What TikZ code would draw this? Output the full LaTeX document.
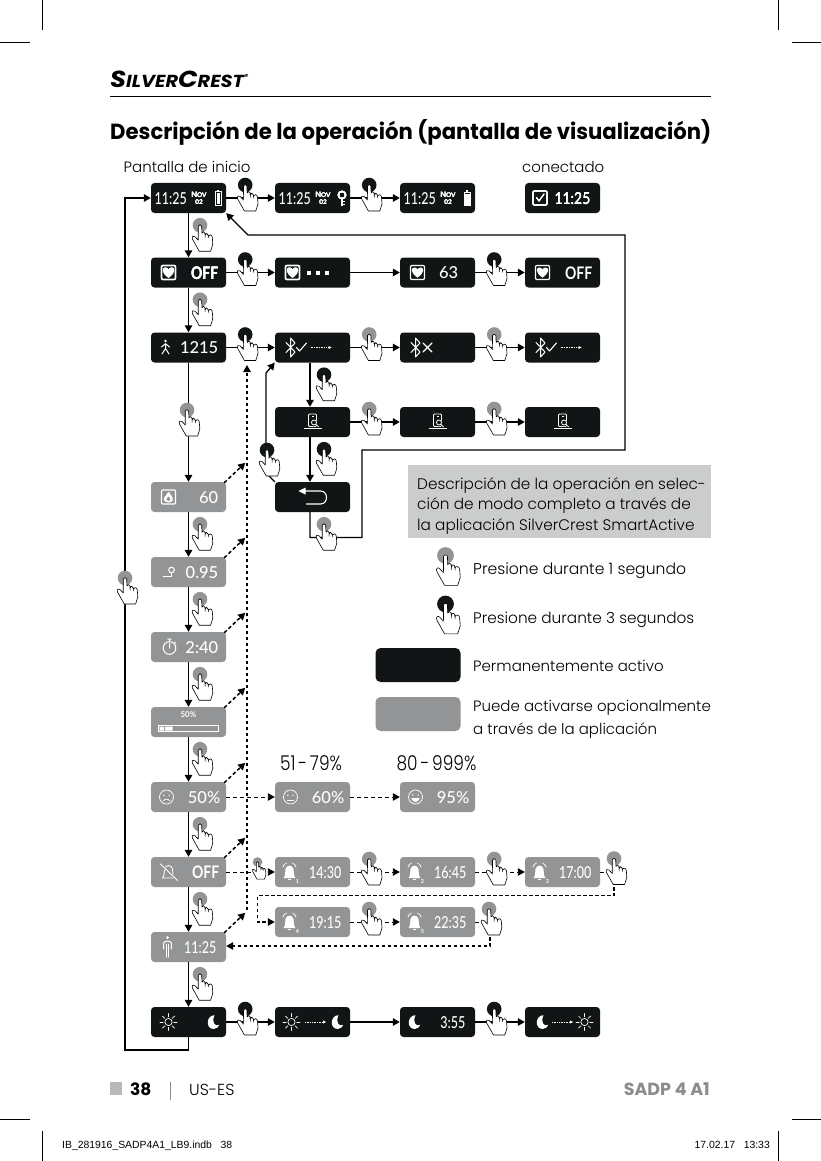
\documentclass[tikz,border=0pt]{standalone}
\usepackage{fontspec}
\setmainfont{Poppins Light}[BoldFont=Poppins SemiBold]
\newfontfamily\headfont{Poppins Bold}
\newfontfamily\dispfont{Lato Medium}[BoldFont=Lato Bold]
\newfontfamily\slugfont{Liberation Sans}
\usetikzlibrary{calc}
\usetikzlibrary{arrows.meta}
\definecolor{dispk}{HTML}{111515}
\definecolor{dispg}{HTML}{929495}
\definecolor{capg}{HTML}{CBCDCC}
\tikzset{
 >={Stealth[inset=0pt,length=7pt,width=7.5pt]},
 disp/.style={rectangle,rounded corners=3.5pt,minimum width=75pt,minimum height=30pt,fill=dispk,inner sep=0pt},
 dispgr/.style={disp,fill=dispg},
 val/.style={anchor=east,text=white,inner sep=0pt,font=\dispfont\fontsize{16.5}{18}\selectfont},
 body/.style={anchor=base west,inner sep=0pt,font=\fontsize{15}{20.5}\selectfont},
 conn/.style={line width=1.3pt},
 dashfine/.style={line width=.9pt,dash pattern=on 4pt off 3pt},
 dashbold/.style={line width=1.5pt,dash pattern=on 3.5pt off 2.5pt},
 crop/.style={line width=.7pt},
 ic/.style={draw=white,line width=1.1pt,line cap=round,line join=round},
 pics/hand/.style={code={
  \fill[#1] (0,0) circle[radius=7.3];
  \draw[fill=white,line width=.6pt,line join=round] (-1.7,1) .. controls (-1.7,-1) and (1.7,-1) .. (1.7,1)
   -- (1.9,8) .. controls (2.1,6) and (4.8,6) .. (5,8) -- (5.1,10)
   .. controls (5.3,7.5) and (8,7.5) .. (8.2,10) -- (8.3,11)
   .. controls (8.5,9) and (12,9) .. (12.3,12) -- (12.8,19) -- (10.6,26) -- (-.8,26)
   -- (-7.5,14) .. controls (-8.8,11.5) and (-6.4,9.5) .. (-5,11.5) -- (-1.8,15) -- cycle;
  \draw[line width=.5pt] (5,8) -- (5.2,12.5) (8.2,10) -- (8.4,13);
 }},
 pics/icoheart/.style={code={
  \draw[ic,rounded corners=1pt] (-7,-7) rectangle (7,7);
  \fill[white] (0,5.2) .. controls (-7.5,0) and (-6.5,-5) .. (-3.2,-5) .. controls (-1.5,-5) and (-.5,-4) .. (0,-3) .. controls (.5,-4) and (1.5,-5) .. (3.2,-5) .. controls (6.5,-5) and (7.5,0) .. (0,5.2) -- cycle;
 }},
 pics/icofire/.style={code={
  \draw[ic,rounded corners=1pt] (-7,-7) rectangle (7,7);
  \fill[white] (0,5.5) .. controls (-6,5.5) and (-5.5,0) .. (-2.5,-1.5) .. controls (-2.3,-3) and (-.5,-4.5) .. (.5,-5.5) .. controls (1,-2.5) and (5.5,0) .. (4,3.5) .. controls (3.5,4.8) and (2,5.5) .. (0,5.5) -- cycle;
  \fill[dispg] (0,4.2) .. controls (-2.5,4.2) and (-2.5,1.5) .. (0,-.5) .. controls (2.5,1.5) and (2.5,4.2) .. (0,4.2) -- cycle;
 }},
 pics/icobatt/.style={code={
  \draw[ic,line width=1pt] (-3,-6) rectangle (3,7);
  \fill[white] (-1.3,-7.5) rectangle (1.3,-6);
  \fill[white] (-1.5,-4.5) rectangle (1.5,5.5);
 }},
 pics/icobattfull/.style={code={
  \draw[ic,line width=.8pt] (-3,-6) rectangle (3,7);
  \fill[white] (-1.3,-7.5) rectangle (1.3,-6);
  \fill[white] (-3,-3.5) rectangle (3,7);
 }},
 pics/icokey/.style={code={
  \draw[ic,line width=1.6pt] (0,-3) circle[radius=3.6];
  \draw[ic,line width=1.8pt,line cap=butt] (0,.5) -- (0,8) (0,3.5) -- (2.5,3.5) (0,6.5) -- (2.5,6.5);
 }},
 pics/icowalk/.style={code={
  \fill[white] (0,-6.5) circle[radius=1.4];
  \draw[ic,line width=1pt] (-4,-.5) -- (0,-3.8) -- (4,-.5) (0,-3.8) -- (0,1) (-3.5,6.5) -- (0,1) -- (3.5,6.5);
 }},
 pics/icoblue/.style={code={
  \draw[ic,line width=1pt] (-4.5,-5) -- (4.5,4.5) -- (0,9.5) -- (0,-9.5) -- (4.5,-4.5) -- (-4.5,5);
 }},
 pics/icocheck/.style={code={
  \draw[ic] (-5,0) -- (-2,3.5) -- (5,-4.5);
 }},
 pics/icocross/.style={code={
  \draw[ic] (-4.5,-4.5) -- (4.5,4.5) (-4.5,4.5) -- (4.5,-4.5);
 }},
 pics/icoflow/.style={code={
  \draw[white,line width=.7pt,dash pattern=on 1pt off .7pt] (-10.5,0) -- (8.5,0);
  \fill[white] (7.5,-1.6) -- (10.5,0) -- (7.5,1.6) -- cycle;
 }},
 pics/icophone/.style={code={
  \draw[ic,line width=.9pt,rounded corners=1pt] (-4,-8) rectangle (4,4.5);
  \draw[ic,line width=.8pt,line cap=butt] (-8.5,6.5) -- (9,6.5);
  \fill[dispk] (1.5,1) circle[radius=3.4];
  \draw[ic,line width=.8pt] (1.5,.5) circle[radius=2.5] (3.3,2.3) -- (6,4.8);
  \fill[white] (-1,-6.5) rectangle (1,-6);
 }},
 pics/icoback/.style={code={
  \draw[ic,line width=1.1pt] (-8,-6) -- (8,-6) .. controls (16,-6) and (16,7) .. (8,7) -- (-6,7);
  \fill[white] (-14,-6) -- (-7,-9.5) -- (-7,-2.5) -- cycle;
 }},
 pics/icopin/.style={code={
  \draw[ic,line width=.9pt,line cap=butt] (-6,4.5) -- (3,4.5) (3,1) -- (3,4.5);
  \draw[ic,line width=1pt] (3,-2) circle[radius=2.8];
 }},
 pics/icowatch/.style={code={
  \draw[ic,line width=1pt] (0,1) circle[radius=6.3] (0,1) -- (0,-3.5);
  \draw[ic,line width=1pt] (-1.8,-8) -- (1.8,-8) (0,-8) -- (0,-5.3) (5,-5) -- (6.2,-3.8);
 }},
 pics/icosad/.style={code={
  \draw[ic,line width=.7pt] (0,0) circle[radius=7];
  \fill[white] (-2.6,-1.8) circle[radius=.8] (2.6,-1.8) circle[radius=.8];
  \draw[ic,line width=.7pt] (-3.4,3.8) .. controls (-1,1.6) and (1,1.6) .. (3.4,3.8);
 }},
 pics/iconeutral/.style={code={
  \draw[ic,line width=.7pt] (0,0) circle[radius=7];
  \fill[white] (-2.6,-1.8) circle[radius=.8] (2.6,-1.8) circle[radius=.8];
  \draw[ic,line width=.8pt] (-3,3) -- (3,3);
 }},
 pics/icohappy/.style={code={
  \draw[ic,line width=.7pt] (0,0) circle[radius=7];
  \fill[white] (-2.6,-2) circle[radius=.8] (2.6,-2) circle[radius=.8];
  \fill[white] (-4.2,1) .. controls (-3,6.3) and (3,6.3) .. (4.2,1) -- cycle;
 }},
 pics/icobell/.style={code={
  \fill[white] (-6,6) .. controls (-4,4) and (-4.5,0) .. (-4,-3) .. controls (-3,-7.5) and (3,-7.5) .. (4,-3) .. controls (4.5,0) and (4,4) .. (6,6) -- cycle;
  \fill[white] (-1.2,6.8) rectangle (1.2,8);
  \draw[ic,line width=.7pt] (-6.5,-5) .. controls (-6,-7) and (-5,-8) .. (-3,-9) (6.5,-5) .. controls (6,-7) and (5,-8) .. (3,-9);
 }},
 pics/icobelloff/.style={code={
  \draw[ic,line width=.9pt,fill=dispg] (-6,6) .. controls (-4,4) and (-4.5,0) .. (-4,-3) .. controls (-3,-7.5) and (3,-7.5) .. (4,-3) .. controls (4.5,0) and (4,4) .. (6,6) -- cycle;
  \draw[dispg,line width=2.6pt] (-8,-8) -- (9,8.5);
  \draw[ic,line width=.9pt] (-8,-8) -- (9,8.5);
 }},
 pics/icoman/.style={code={
  \fill[white] (0,-9.5) circle[radius=1.5];
  \draw[ic,line width=1pt] (-3.8,2) -- (-3.8,-4) .. controls (-3.8,-6.5) and (3.8,-6.5) .. (3.8,-4) -- (3.8,2);
  \draw[ic,line width=1pt] (-1.3,10) -- (-1.3,-3) (1.3,10) -- (1.3,-3);
 }},
 pics/icosun/.style={code={
  \draw[ic,line width=.7pt] (0,0) circle[radius=3.6];
  \foreach \a in {0,45,...,315} \draw[ic,line width=.7pt] (\a:5.3) -- (\a:8.5);
 }},
 pics/icomoon/.style={code={
  \fill[white] (2,-6.8) .. controls (-6,-7) and (-7.5,6.5) .. (1,7) .. controls (4,7) and (6,5) .. (6.8,2.8) .. controls (3,5) and (-1.5,1) .. (2,-6.8) -- cycle;
 }},
 pics/icotick/.style={code={
  \draw[ic,rounded corners=1pt] (-7,-7) rectangle (7,7);
  \draw[ic] (-3.6,-.5) -- (-1,3) -- (4,-4);
 }},
}
\newcommand{\ico}[4]{\pic at ($(#1)+(#2,#3)$) {#4};}
\newcommand{\val}[3]{\node[val] (#1v) at ($(#1)+(#2,.5)$) {#3};}
\newcommand{\tm}[1]{\scalebox{.76}[1]{#1}}
\newcommand{\offv}{\scalebox{.85}[1.05]{\bfseries OFF}}
\newcommand{\nov}[1]{\node[anchor=center,text=white,inner sep=0pt,align=center,font=\dispfont\bfseries\fontsize{7.6}{7.2}\selectfont] (#1n) at ($(#1)+(10.5,0)$) {N{\fontsize{6.4}{7.2}\selectfont OV}\\{\fontsize{6.4}{7.2}\selectfont 02}};}
\newcommand{\num}[2]{\node[text=white,inner sep=0pt,font=\dispfont\bfseries\fontsize{5.5}{6}\selectfont] (#1k) at ($(#1)+(-15,9.5)$) {#2};}
\begin{document}
\begin{tikzpicture}[x=1pt,y=-1pt]
\useasboundingbox (0,0) rectangle (821,1161);
\fill[white] (0,0) rectangle (821,1161);
\draw[crop] (42.5,0)--(42.5,30) (778.5,0)--(778.5,30) (0,42.5)--(30,42.5) (792,42.5)--(821,42.5);
\draw[crop] (42.5,1131)--(42.5,1161) (778.5,1131)--(778.5,1161) (0,1119)--(30,1119) (792,1119)--(821,1119);
\node[anchor=base west,inner sep=0pt] (logo) at (110,88) {\resizebox{138pt}{16.5pt}{\headfont\itshape\fontsize{16}{16}\selectfont S{\fontsize{12}{12}\selectfont ILVER}C{\fontsize{12}{12}\selectfont REST}{\fontsize{5}{5}\selectfont\raisebox{6pt}{\textregistered}}}};
\draw[line width=1pt] (110,96.5)--(711,96.5);
\node[anchor=base west,inner sep=0pt] (title) at (110,140) {\resizebox{601pt}{20pt}{\headfont\fontsize{20}{24}\selectfont Descripción de la operación (pantalla de visualización)}};
\node[body] (lstart) at (123.5,173) {Pantalla de inicio};
\node[body] (lconn) at (522,173) {conectado};
\foreach \n/\x/\y in {b11/188.5/198,b12/312.5/198,b13/437.5/198,b14/562.5/198,
 b21/188.5/272.5,b22/312.5/272.5,b23/437.5/272.5,b24/562.5/272.5,
 b31/188.5/347.5,b32/312.5/347.5,b33/437.5/347.5,b34/562.5/347.5,
 b42/312.5/422,b43/437.5/422,b44/562.5/422,back/312.5/497,
 sky/188.5/1022,sky2/312.5/1022,sky3/437.5/1022,sky4/562.5/1022}
 \node[disp] (\n) at (\x,\y) {};
\foreach \n/\x/\y in {fire/188.5/497,dist/188.5/572,timer/188.5/647,prog/188.5/722,
 moodA/188.5/797,moodB/312.5/797,moodC/437.5/797,
 alarm/188.5/872,bellA/312.5/872,bellB/437.5/872,bellC/562.5/872,
 bellD/312.5/922,bellE/437.5/922,man/188.5/947}
 \node[dispgr] (\n) at (\x,\y) {};
\foreach \b in {b11,b12,b13} \val{\b}{-1.5}{\tm{11:25}}
\val{b14}{28}{\scalebox{.84}[1]{11:25}}
\nov{b11} \nov{b12} \nov{b13}
\ico{b11}{29.5}{0}{icobatt} \ico{b12}{29.5}{0}{icokey} \ico{b13}{29.5}{0}{icobattfull} \ico{b14}{-22.5}{0}{icotick}
\ico{b21}{-20}{0}{icoheart} \val{b21}{30}{\offv}
\ico{b22}{-20}{0}{icoheart} \foreach \a in {-3.3,5.7,14.7} \fill[white] ($(b22)+(\a-2,-2)$) rectangle ++(4,4);
\ico{b23}{-20}{0}{icoheart} \val{b23}{21}{63}
\ico{b24}{-20}{0}{icoheart} \val{b24}{30}{\offv}
\ico{b31}{-23}{0}{icowalk} \val{b31}{30}{1215}
\ico{b32}{-22}{0}{icoblue} \ico{b32}{-11}{0}{icocheck} \ico{b32}{8.5}{0}{icoflow}
\ico{b33}{-22}{0}{icoblue} \ico{b33}{-10}{0}{icocross}
\ico{b34}{-22}{0}{icoblue} \ico{b34}{-11}{0}{icocheck} \ico{b34}{8.5}{0}{icoflow}
\ico{b42}{0}{0}{icophone} \ico{b43}{0}{0}{icophone} \ico{b44}{0}{0}{icophone}
\ico{back}{0}{0}{icoback}
\ico{fire}{-20}{0}{icofire} \val{fire}{30}{60}
\ico{dist}{-20}{0}{icopin} \val{dist}{30}{0.95}
\ico{timer}{-19}{0}{icowatch} \val{timer}{30}{2:40}
\node[text=white,inner sep=0pt,font=\dispfont\bfseries\fontsize{8}{9}\selectfont] (progv) at ($(prog)+(0,-7.5)$) {50\%};
\draw[white,line width=.8pt] ($(prog)+(-30,3.5)$) rectangle ($(prog)+(30,9.5)$);
\fill[white] ($(prog)+(-29,4.5)$) rectangle ($(prog)+(-24.5,8.5)$) ($(prog)+(-23.5,4.5)$) rectangle ($(prog)+(-16,8.5)$);
\ico{moodA}{-22}{0}{icosad} \val{moodA}{32}{50\%}
\ico{moodB}{-22}{0}{iconeutral} \val{moodB}{32}{60\%}
\ico{moodC}{-22}{0}{icohappy} \val{moodC}{32}{95\%}
\ico{alarm}{-20}{0}{icobelloff} \val{alarm}{31}{\offv}
\foreach \b/\k/\t in {bellA/1/14:30,bellB/2/16:45,bellC/3/17:00,bellD/4/19:15,bellE/5/22:35}{
 \ico{\b}{-23}{0}{icobell} \num{\b}{\k} \val{\b}{29}{\tm{\t}}
}
\ico{man}{-21}{0}{icoman} \val{man}{28}{\tm{11:25}}
\ico{sky}{-20}{0}{icosun} \ico{sky}{24}{0}{icomoon}
\ico{sky2}{-21}{0}{icosun} \ico{sky2}{3}{0}{icoflow} \ico{sky2}{24}{0}{icomoon}
\ico{sky3}{-24}{0}{icomoon} \val{sky3}{28}{\tm{3:55}}
\ico{sky4}{-21}{0}{icomoon} \ico{sky4}{0}{0}{icoflow} \ico{sky4}{22}{0}{icosun}
\foreach \a/\b in {b11/b12,b12/b13,b21/b22,b22/b23,b23/b24,b31/b32,b32/b33,b33/b34,b42/b43,b43/b44,sky/sky2,sky2/sky3,sky3/sky4}
 \draw[conn,->] (\a) -- (\b);
\foreach \a/\b in {b11/b21,b21/b31,b31/fire,fire/dist,dist/timer,timer/prog,prog/moodA,moodA/alarm,alarm/man,man/sky}
 \draw[conn,line width=1.5pt,->] (\a) -- (\b);
\draw[conn,line width=1.5pt,->] ([xshift=-2.5pt]b32.south) -- ([xshift=-2.5pt]b42.north);
\draw[conn,line width=1.5pt,->] ([xshift=-2.5pt]b42.south) -- ([xshift=-2.5pt]back.north);
\coordinate (lpA) at (188.5,1050);
\coordinate (lpB) at (125,1050);
\coordinate (lpC) at (125,198);
\draw[conn,line width=1.5pt,->] (sky.south) -- (lpA) -- (lpB) -- (lpC) -- (b11.west);
\coordinate (retA) at (310,537.5);
\coordinate (retB) at (362,537.5);
\coordinate (retC) at (362,450);
\coordinate (retD) at (625,450);
\coordinate (retE) at (625,235);
\coordinate (retF) at (248,235);
\draw[conn,->] ([xshift=-2.5pt]back.south) -- (retA) -- (retB) -- (retC) -- (retD) -- (retE) -- (retF) -- (b11.south east);
\coordinate (upA) at (266,473);
\coordinate (upB) at (266,373);
\draw[conn,->] (back.north west) -- (upA) -- (upB) -- (b32.south west);
\coordinate (dashA) at (247,910);
\coordinate (dashB) at (247,365);
\draw[dashbold,->] (dashA) -- (dashB);
\foreach \b in {fire,dist,timer,prog,moodA,alarm,man}
 \draw[dashbold,->] ($(\b.north east)+(-2,1)$) -- ($(\b.north east)+(19,-19)$);
\draw[dashfine,->] (moodA) -- (moodB);
\draw[dashfine,->] (moodB) -- (moodC);
\draw[dashfine,->] (alarm) -- (bellA);
\draw[dashfine,->] (bellA) -- (bellB);
\draw[dashfine,->] (bellB) -- (bellC);
\draw[dashfine,->] (bellD) -- (bellE);
\coordinate (wrapA) at (614,895.5);
\coordinate (wrapB) at (257.5,895.5);
\coordinate (wrapC) at (257.5,922);
\coordinate (wrapS) at (614,887);
\draw[dashfine] (bellC.east) -- ++(14,0);
\draw[dashbold,line width=1.2pt,->] (wrapS) -- (wrapA) -- (wrapB) -- (wrapC) -- (bellD.west);
\coordinate (wrapD) at (490,946);
\coordinate (wrapT) at (490,937);
\draw[dashfine] (bellE.east) -- ++(14,0);
\draw[dashbold,line width=1.2pt,->] (wrapT) -- (wrapD) -- (man.east |- wrapD);
\foreach \b/\c in {b11/dispk,b12/dispk,b21/dispk,b23/dispk,b31/dispk,b32/dispg,b33/dispg,b42/dispg,b43/dispg,bellA/dispg,bellB/dispg,bellD/dispg,sky/dispk,sky3/dispk}
 \pic at ($(\b.east)+(19,-13)$) {hand=\c};
\foreach \b/\c in {b11/dispg,b21/dispg,b32/dispk,b42/dispk,fire/dispg,dist/dispg,timer/dispg,prog/dispg,moodA/dispg,alarm/dispg,man/dispg,back/dispg}
 \pic at ($(\b.south)+(11.5,12)$) {hand=\c};
\pic at (187,410) {hand=dispg};
\pic at (125,578) {hand=dispg};
\pic at (267,450) {hand=dispk};
\pic[scale=.66] at (257.5,862) {hand=dispg};
\pic at (614,858.5) {hand=dispg};
\pic at (489,909) {hand=dispg};
\fill[capg] (408,465) rectangle (711,537.5);
\node[body,align=left,font=\fontsize{15.3}{20.5}\selectfont] (lcap) at (417,530) {Descripción de la operación en selec-\\ción de modo completo a través de\\la aplicación SilverCrest SmartActive};
\pic[scale=1.15] at (445.5,555.5) {hand=dispg};
\pic[scale=1.15] at (445.5,604) {hand=dispk};
\node[disp,minimum width=85pt,minimum height=34pt,rounded corners=5pt] (legk) at (418,665) {};
\node[dispgr,minimum width=85pt,minimum height=34pt,rounded corners=5pt] (legg) at (418,714) {};
\node[body,font=\fontsize{15.6}{20}\selectfont] (lone) at (473,574) {Presione durante 1 segundo};
\node[body,font=\fontsize{15.3}{20}\selectfont] (lthree) at (473,623) {Presione durante 3 segundos};
\node[body] (lperm) at (473,671) {Permanentemente activo};
\node[body] (lopt) at (473,711) {Puede activarse opcionalmente};
\node[body] (lopt2) at (473,734) {a través de la aplicación};
\node[anchor=base,inner sep=0pt,font=\fontsize{17}{20}\selectfont] (lmid) at (311,770) {\scalebox{1}[1.2]{51\,-\,79\%}};
\node[anchor=base,inner sep=0pt,font=\fontsize{17}{20}\selectfont] (lhigh) at (436.5,770) {\scalebox{1}[1.2]{80\,-\,999\%}};
\fill[black!28] (110,1082) rectangle (122,1095);
\node[anchor=base west,inner sep=0pt,font=\headfont\fontsize{17}{18}\selectfont] (pageno) at (130,1095) {38};
\draw[black!45,line width=.6pt] (170,1082)--(170,1100);
\node[anchor=base west,inner sep=0pt,font=\fontsize{16}{16}\selectfont] (lang) at (189,1095) {US-ES};
\node[anchor=base east,inner sep=0pt,text=black!45,font=\headfont\fontsize{17.5}{16}\selectfont] (model) at (710,1095) {SADP 4 A1};
\node[anchor=base west,inner sep=0pt,font=\slugfont\fontsize{10.4}{12}\selectfont] (slugl) at (62,1148) {IB\_281916\_SADP4A1\_LB9.indb\ \ \ 38};
\node[anchor=base east,inner sep=0pt,font=\slugfont\fontsize{10.4}{12}\selectfont] (slugr) at (770,1148) {17.02.17\ \ \ 13:33};
\end{tikzpicture}
\end{document}
